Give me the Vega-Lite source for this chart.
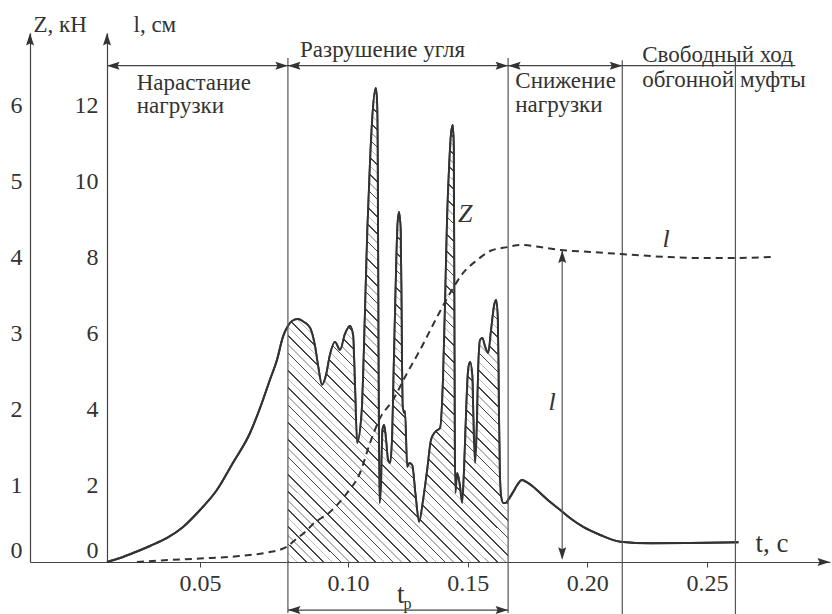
{
"$schema": "https://vega.github.io/schema/vega-lite/v6.json",
"width": 800,
"height": 529,
"autosize": {"type": "none"},
"padding": {"left": 30, "top": 33, "right": 2, "bottom": 52},
"background": "white",
"config": {"view": {"stroke": null}, "font": "Liberation Serif"},
"datasets": {
"z": [
{"t":0,"Z":0},{"t":0.007,"Z":0.053},{"t":0.014,"Z":0.118},{"t":0.0231,"Z":0.211},{"t":0.0323,"Z":0.316},{"t":0.0409,"Z":0.461},{"t":0.05,"Z":0.684},{"t":0.0557,"Z":0.947},{"t":0.0611,"Z":1.303},{"t":0.0669,"Z":1.697},{"t":0.0709,"Z":2.092},{"t":0.0736,"Z":2.395},{"t":0.076,"Z":2.658},{"t":0.078,"Z":2.961},
{"t":0.0797,"Z":3.105},{"t":0.0811,"Z":3.171},{"t":0.0831,"Z":3.197},{"t":0.0851,"Z":3.158},{"t":0.0872,"Z":3.079},{"t":0.0889,"Z":2.829},{"t":0.0899,"Z":2.579},{"t":0.0912,"Z":2.329},{"t":0.0926,"Z":2.461},{"t":0.0939,"Z":2.724},{"t":0.0956,"Z":2.895},{"t":0.0973,"Z":2.789},{"t":0.099,"Z":3.0},{"t":0.1008,"Z":3.105},{"t":0.1021,"Z":2.987},{"t":0.1029,"Z":2.329},{"t":0.1038,"Z":1.566},
{"t":0.1057,"Z":1.961},{"t":0.1071,"Z":3.276},{"t":0.1081,"Z":4.368},{"t":0.1092,"Z":5.25},{"t":0.1103,"Z":5.908},{"t":0.1116,"Z":6.237},{"t":0.1121,"Z":6.079},{"t":0.1125,"Z":4.763},{"t":0.1127,"Z":2.789},{"t":0.113,"Z":1.342},{"t":0.1132,"Z":0.776},
{"t":0.1138,"Z":1.013},{"t":0.1144,"Z":1.737},{"t":0.1151,"Z":1.803},{"t":0.1159,"Z":1.605},{"t":0.1167,"Z":1.342},{"t":0.1176,"Z":1.303},{"t":0.1184,"Z":1.605},{"t":0.1192,"Z":2.658},{"t":0.1201,"Z":3.842},{"t":0.1207,"Z":4.434},{"t":0.1213,"Z":4.605},{"t":0.122,"Z":4.368},{"t":0.1224,"Z":3.184},{"t":0.1228,"Z":2.066},{"t":0.1234,"Z":1.961},{"t":0.1238,"Z":1.987},
{"t":0.1247,"Z":1.25},{"t":0.1257,"Z":1.303},{"t":0.1268,"Z":1.276},{"t":0.1282,"Z":0.882},{"t":0.1297,"Z":0.526},{"t":0.1314,"Z":0.816},{"t":0.1331,"Z":1.211},{"t":0.1347,"Z":1.605},{"t":0.1364,"Z":1.711},{"t":0.1385,"Z":1.763},
{"t":0.1397,"Z":2.395},{"t":0.1406,"Z":3.447},{"t":0.1414,"Z":4.5},{"t":0.1423,"Z":5.224},{"t":0.1431,"Z":5.645},{"t":0.1438,"Z":5.75},{"t":0.1442,"Z":5.421},{"t":0.1444,"Z":3.447},{"t":0.1446,"Z":1.605},{"t":0.1449,"Z":0.908},{"t":0.1456,"Z":1.171},{"t":0.1467,"Z":1.013},{"t":0.1477,"Z":0.776},
{"t":0.1485,"Z":1.211},{"t":0.1494,"Z":2.0},{"t":0.1502,"Z":2.526},{"t":0.151,"Z":2.632},{"t":0.1519,"Z":2.461},{"t":0.1525,"Z":1.737},{"t":0.1531,"Z":1.303},{"t":0.1538,"Z":1.737},{"t":0.1544,"Z":2.526},{"t":0.1552,"Z":2.921},{"t":0.1561,"Z":2.947},{"t":0.1573,"Z":2.829},{"t":0.1586,"Z":2.75},{"t":0.1598,"Z":3.053},{"t":0.1611,"Z":3.382},{"t":0.1619,"Z":3.447},{"t":0.1626,"Z":3.184},{"t":0.163,"Z":2.132},{"t":0.1634,"Z":1.211},{"t":0.164,"Z":0.855},{"t":0.1649,"Z":0.776},{"t":0.1659,"Z":0.776},{"t":0.1669,"Z":0.816},
{"t":0.169,"Z":0.921},{"t":0.1707,"Z":1.013},{"t":0.1727,"Z":1.079},{"t":0.1745,"Z":1.053},{"t":0.177,"Z":1.0},{"t":0.1803,"Z":0.908},{"t":0.1845,"Z":0.789},{"t":0.1887,"Z":0.684},{"t":0.1933,"Z":0.566},{"t":0.1983,"Z":0.461},{"t":0.2054,"Z":0.355},{"t":0.2138,"Z":0.267},{"t":0.2264,"Z":0.246},{"t":0.2431,"Z":0.25},{"t":0.2632,"Z":0.259}
],
"l": [
{"t":0.0161,"l":0},{"t":0.0339,"l":0.053},{"t":0.05,"l":0.092},{"t":0.0635,"l":0.158},{"t":0.0736,"l":0.263},{"t":0.0777,"l":0.342},{"t":0.0797,"l":0.421},{"t":0.0821,"l":0.579},{"t":0.0855,"l":0.789},{"t":0.0882,"l":1.0},{"t":0.0939,"l":1.316},{"t":0.0997,"l":1.816},{"t":0.105,"l":2.342},{"t":0.1092,"l":3.132},{"t":0.1134,"l":3.789},{"t":0.1188,"l":4.263},{"t":0.1247,"l":4.974},{"t":0.1301,"l":5.579},{"t":0.1372,"l":6.447},{"t":0.1427,"l":7.079},{"t":0.1481,"l":7.605},{"t":0.154,"l":7.947},{"t":0.1594,"l":8.184},{"t":0.1669,"l":8.289},{"t":0.172,"l":8.342},{"t":0.1803,"l":8.289},{"t":0.1887,"l":8.211},{"t":0.2013,"l":8.158},{"t":0.2138,"l":8.105},{"t":0.2335,"l":8.026},{"t":0.2473,"l":8.0},{"t":0.2619,"l":8.0},{"t":0.277,"l":8.026}
],
"vlines": [{"t":0.0797,"Z":6.63,"Z2":-0.67},{"t":0.1669,"Z":6.63,"Z2":-0.67},{"t":0.2146,"Z":6.6,"Z2":-0.7},{"t":0.2619,"Z":6.63,"Z2":-0.7},{"t":0.1895,"Z":0.05,"Z2":4.1}],
"hlines": [{"t":0,"t2":0.287,"Z":6.53},{"t":0.0797,"t2":0.1669,"Z":-0.632}],
"up": [{"t":-0.0414,"Z":6.96},{"t":0,"Z":6.96},{"t":0.1895,"Z":4.1}],
"down": [{"t":0.1895,"Z":0.03}],
"right": [{"t":0.3015,"Z":0},{"t":0.0797,"Z":6.53},{"t":0.1669,"Z":6.53},{"t":0.2146,"Z":6.53},{"t":0.1669,"Z":-0.632}],
"left": [{"t":0,"Z":6.53},{"t":0.0797,"Z":6.53},{"t":0.1669,"Z":6.53},{"t":0.0797,"Z":-0.632}],
"labels": [{"t":0.016,"Z":6.21,"txt":"Нарастание"},{"t":0.016,"Z":5.908,"txt":"нагрузки"},{"t":0.0838,"Z":6.645,"txt":"Разрушение угля"},{"t":0.1699,"Z":6.237,"txt":"Снижение"},{"t":0.1699,"Z":5.921,"txt":"нагрузки"},{"t":0.2229,"Z":6.579,"txt":"Свободный ход"},{"t":0.2229,"Z":6.25,"txt":"обгонной муфты"}],
"big": [{"t":0.2703,"Z":0.132,"txt":"t, с"},{"t":0.1205,"Z":-0.539,"txt":"t"}],
"ital": [{"t":0.146,"Z":4.474,"txt":"Z"},{"t":0.2314,"Z":4.145,"txt":"l"},{"t":0.1838,"Z":2.0,"txt":"l"}],
"sub": [{"t":0.1232,"Z":-0.62,"txt":"р"}]
},
"resolve": {"scale": {"y": "independent"}},
"layer": [
{
"layer": [
{
"data": {"name": "z"},
"mark": {"type": "line", "interpolate": "monotone", "color": "#333", "strokeWidth": 2},
"encoding": {
"x": {"field": "t", "type": "quantitative",
"scale": {"type": "linear", "domain": [-0.0414, 0, 0.05, 0.1, 0.25, 0.3015], "range": [0, 77, 170, 318, 677, 800], "nice": false, "zero": false},
"axis": {"values": [0.05, 0.1, 0.15, 0.2, 0.25], "format": ".2f", "title": null, "grid": false, "domainColor": "#444", "domainWidth": 1.2, "tickColor": "#444", "tickSize": 5, "tickWidth": 1, "labelFont": "Liberation Serif", "labelFontSize": 24, "labelColor": "#333", "labelPadding": 4, "labelDx": 5, "labelFlush": false, "labelOverlap": false}},
"y": {"field": "Z", "type": "quantitative",
"scale": {"domain": [0, 6.96], "nice": false},
"axis": {"values": [0, 1, 2, 3, 4, 5, 6], "format": "d", "title": "Z, кН", "titleAngle": 0, "titleAlign": "left", "titleBaseline": "alphabetic", "titleX": 3, "titleY": -2, "titleFont": "Liberation Serif", "titleFontSize": 23, "titleFontWeight": "normal", "titleColor": "#333", "grid": false, "ticks": false, "domainColor": "#444", "domainWidth": 1.2, "labelFont": "Liberation Serif", "labelFontSize": 24, "labelColor": "#333", "labelPadding": 8, "labelFlush": true, "labelOverlap": false}}
}
},
{
"data": {"name": "z"},
"transform": [{"filter": "datum.t >= 0.0796 && datum.t <= 0.16695"}],
"mark": {"type": "area", "interpolate": "monotone", "fill": {"gradient": "linear", "x1": 0, "y1": 1, "x2": 0.5591, "y2": -0.2046, "stops": [
{"offset":0,"color":"#444"},{"offset":0.0025,"color":"#444"},{"offset":0.0025,"color":"#fff"},{"offset":0.0125,"color":"#fff"},{"offset":0.0125,"color":"#bbb"},{"offset":0.0145,"color":"#bbb"},{"offset":0.0145,"color":"#fff"},{"offset":0.025,"color":"#fff"},
{"offset":0.025,"color":"#444"},{"offset":0.0275,"color":"#444"},{"offset":0.0275,"color":"#fff"},{"offset":0.0375,"color":"#fff"},{"offset":0.0375,"color":"#bbb"},{"offset":0.0395,"color":"#bbb"},{"offset":0.0395,"color":"#fff"},{"offset":0.05,"color":"#fff"},
{"offset":0.05,"color":"#444"},{"offset":0.0525,"color":"#444"},{"offset":0.0525,"color":"#fff"},{"offset":0.0625,"color":"#fff"},{"offset":0.0625,"color":"#bbb"},{"offset":0.0645,"color":"#bbb"},{"offset":0.0645,"color":"#fff"},{"offset":0.075,"color":"#fff"},
{"offset":0.075,"color":"#444"},{"offset":0.0775,"color":"#444"},{"offset":0.0775,"color":"#fff"},{"offset":0.0875,"color":"#fff"},{"offset":0.0875,"color":"#bbb"},{"offset":0.0895,"color":"#bbb"},{"offset":0.0895,"color":"#fff"},{"offset":0.1,"color":"#fff"},
{"offset":0.1,"color":"#444"},{"offset":0.1025,"color":"#444"},{"offset":0.1025,"color":"#fff"},{"offset":0.1125,"color":"#fff"},{"offset":0.1125,"color":"#bbb"},{"offset":0.1145,"color":"#bbb"},{"offset":0.1145,"color":"#fff"},{"offset":0.125,"color":"#fff"},
{"offset":0.125,"color":"#444"},{"offset":0.1275,"color":"#444"},{"offset":0.1275,"color":"#fff"},{"offset":0.1375,"color":"#fff"},{"offset":0.1375,"color":"#bbb"},{"offset":0.1395,"color":"#bbb"},{"offset":0.1395,"color":"#fff"},{"offset":0.15,"color":"#fff"},
{"offset":0.15,"color":"#444"},{"offset":0.1525,"color":"#444"},{"offset":0.1525,"color":"#fff"},{"offset":0.1625,"color":"#fff"},{"offset":0.1625,"color":"#bbb"},{"offset":0.1645,"color":"#bbb"},{"offset":0.1645,"color":"#fff"},{"offset":0.175,"color":"#fff"},
{"offset":0.175,"color":"#444"},{"offset":0.1775,"color":"#444"},{"offset":0.1775,"color":"#fff"},{"offset":0.1875,"color":"#fff"},{"offset":0.1875,"color":"#bbb"},{"offset":0.1895,"color":"#bbb"},{"offset":0.1895,"color":"#fff"},{"offset":0.2,"color":"#fff"},
{"offset":0.2,"color":"#444"},{"offset":0.2025,"color":"#444"},{"offset":0.2025,"color":"#fff"},{"offset":0.2125,"color":"#fff"},{"offset":0.2125,"color":"#bbb"},{"offset":0.2145,"color":"#bbb"},{"offset":0.2145,"color":"#fff"},{"offset":0.225,"color":"#fff"},
{"offset":0.225,"color":"#444"},{"offset":0.2275,"color":"#444"},{"offset":0.2275,"color":"#fff"},{"offset":0.2375,"color":"#fff"},{"offset":0.2375,"color":"#bbb"},{"offset":0.2395,"color":"#bbb"},{"offset":0.2395,"color":"#fff"},{"offset":0.25,"color":"#fff"},
{"offset":0.25,"color":"#444"},{"offset":0.2525,"color":"#444"},{"offset":0.2525,"color":"#fff"},{"offset":0.2625,"color":"#fff"},{"offset":0.2625,"color":"#bbb"},{"offset":0.2645,"color":"#bbb"},{"offset":0.2645,"color":"#fff"},{"offset":0.275,"color":"#fff"},
{"offset":0.275,"color":"#444"},{"offset":0.2775,"color":"#444"},{"offset":0.2775,"color":"#fff"},{"offset":0.2875,"color":"#fff"},{"offset":0.2875,"color":"#bbb"},{"offset":0.2895,"color":"#bbb"},{"offset":0.2895,"color":"#fff"},{"offset":0.3,"color":"#fff"},
{"offset":0.3,"color":"#444"},{"offset":0.3025,"color":"#444"},{"offset":0.3025,"color":"#fff"},{"offset":0.3125,"color":"#fff"},{"offset":0.3125,"color":"#bbb"},{"offset":0.3145,"color":"#bbb"},{"offset":0.3145,"color":"#fff"},{"offset":0.325,"color":"#fff"},
{"offset":0.325,"color":"#444"},{"offset":0.3275,"color":"#444"},{"offset":0.3275,"color":"#fff"},{"offset":0.3375,"color":"#fff"},{"offset":0.3375,"color":"#bbb"},{"offset":0.3395,"color":"#bbb"},{"offset":0.3395,"color":"#fff"},{"offset":0.35,"color":"#fff"},
{"offset":0.35,"color":"#444"},{"offset":0.3525,"color":"#444"},{"offset":0.3525,"color":"#fff"},{"offset":0.3625,"color":"#fff"},{"offset":0.3625,"color":"#bbb"},{"offset":0.3645,"color":"#bbb"},{"offset":0.3645,"color":"#fff"},{"offset":0.375,"color":"#fff"},
{"offset":0.375,"color":"#444"},{"offset":0.3775,"color":"#444"},{"offset":0.3775,"color":"#fff"},{"offset":0.3875,"color":"#fff"},{"offset":0.3875,"color":"#bbb"},{"offset":0.3895,"color":"#bbb"},{"offset":0.3895,"color":"#fff"},{"offset":0.4,"color":"#fff"},
{"offset":0.4,"color":"#444"},{"offset":0.4025,"color":"#444"},{"offset":0.4025,"color":"#fff"},{"offset":0.4125,"color":"#fff"},{"offset":0.4125,"color":"#bbb"},{"offset":0.4145,"color":"#bbb"},{"offset":0.4145,"color":"#fff"},{"offset":0.425,"color":"#fff"},
{"offset":0.425,"color":"#444"},{"offset":0.4275,"color":"#444"},{"offset":0.4275,"color":"#fff"},{"offset":0.4375,"color":"#fff"},{"offset":0.4375,"color":"#bbb"},{"offset":0.4395,"color":"#bbb"},{"offset":0.4395,"color":"#fff"},{"offset":0.45,"color":"#fff"},
{"offset":0.45,"color":"#444"},{"offset":0.4525,"color":"#444"},{"offset":0.4525,"color":"#fff"},{"offset":0.4625,"color":"#fff"},{"offset":0.4625,"color":"#bbb"},{"offset":0.4645,"color":"#bbb"},{"offset":0.4645,"color":"#fff"},{"offset":0.475,"color":"#fff"},
{"offset":0.475,"color":"#444"},{"offset":0.4775,"color":"#444"},{"offset":0.4775,"color":"#fff"},{"offset":0.4875,"color":"#fff"},{"offset":0.4875,"color":"#bbb"},{"offset":0.4895,"color":"#bbb"},{"offset":0.4895,"color":"#fff"},{"offset":0.5,"color":"#fff"},
{"offset":0.5,"color":"#444"},{"offset":0.5025,"color":"#444"},{"offset":0.5025,"color":"#fff"},{"offset":0.5125,"color":"#fff"},{"offset":0.5125,"color":"#bbb"},{"offset":0.5145,"color":"#bbb"},{"offset":0.5145,"color":"#fff"},{"offset":0.525,"color":"#fff"},
{"offset":0.525,"color":"#444"},{"offset":0.5275,"color":"#444"},{"offset":0.5275,"color":"#fff"},{"offset":0.5375,"color":"#fff"},{"offset":0.5375,"color":"#bbb"},{"offset":0.5395,"color":"#bbb"},{"offset":0.5395,"color":"#fff"},{"offset":0.55,"color":"#fff"},
{"offset":0.55,"color":"#444"},{"offset":0.5525,"color":"#444"},{"offset":0.5525,"color":"#fff"},{"offset":0.5625,"color":"#fff"},{"offset":0.5625,"color":"#bbb"},{"offset":0.5645,"color":"#bbb"},{"offset":0.5645,"color":"#fff"},{"offset":0.575,"color":"#fff"},
{"offset":0.575,"color":"#444"},{"offset":0.5775,"color":"#444"},{"offset":0.5775,"color":"#fff"},{"offset":0.5875,"color":"#fff"},{"offset":0.5875,"color":"#bbb"},{"offset":0.5895,"color":"#bbb"},{"offset":0.5895,"color":"#fff"},{"offset":0.6,"color":"#fff"},
{"offset":0.6,"color":"#444"},{"offset":0.6025,"color":"#444"},{"offset":0.6025,"color":"#fff"},{"offset":0.6125,"color":"#fff"},{"offset":0.6125,"color":"#bbb"},{"offset":0.6145,"color":"#bbb"},{"offset":0.6145,"color":"#fff"},{"offset":0.625,"color":"#fff"},
{"offset":0.625,"color":"#444"},{"offset":0.6275,"color":"#444"},{"offset":0.6275,"color":"#fff"},{"offset":0.6375,"color":"#fff"},{"offset":0.6375,"color":"#bbb"},{"offset":0.6395,"color":"#bbb"},{"offset":0.6395,"color":"#fff"},{"offset":0.65,"color":"#fff"},
{"offset":0.65,"color":"#444"},{"offset":0.6525,"color":"#444"},{"offset":0.6525,"color":"#fff"},{"offset":0.6625,"color":"#fff"},{"offset":0.6625,"color":"#bbb"},{"offset":0.6645,"color":"#bbb"},{"offset":0.6645,"color":"#fff"},{"offset":0.675,"color":"#fff"},
{"offset":0.675,"color":"#444"},{"offset":0.6775,"color":"#444"},{"offset":0.6775,"color":"#fff"},{"offset":0.6875,"color":"#fff"},{"offset":0.6875,"color":"#bbb"},{"offset":0.6895,"color":"#bbb"},{"offset":0.6895,"color":"#fff"},{"offset":0.7,"color":"#fff"},
{"offset":0.7,"color":"#444"},{"offset":0.7025,"color":"#444"},{"offset":0.7025,"color":"#fff"},{"offset":0.7125,"color":"#fff"},{"offset":0.7125,"color":"#bbb"},{"offset":0.7145,"color":"#bbb"},{"offset":0.7145,"color":"#fff"},{"offset":0.725,"color":"#fff"},
{"offset":0.725,"color":"#444"},{"offset":0.7275,"color":"#444"},{"offset":0.7275,"color":"#fff"},{"offset":0.7375,"color":"#fff"},{"offset":0.7375,"color":"#bbb"},{"offset":0.7395,"color":"#bbb"},{"offset":0.7395,"color":"#fff"},{"offset":0.75,"color":"#fff"},
{"offset":0.75,"color":"#444"},{"offset":0.7525,"color":"#444"},{"offset":0.7525,"color":"#fff"},{"offset":0.7625,"color":"#fff"},{"offset":0.7625,"color":"#bbb"},{"offset":0.7645,"color":"#bbb"},{"offset":0.7645,"color":"#fff"},{"offset":0.775,"color":"#fff"},
{"offset":0.775,"color":"#444"},{"offset":0.7775,"color":"#444"},{"offset":0.7775,"color":"#fff"},{"offset":0.7875,"color":"#fff"},{"offset":0.7875,"color":"#bbb"},{"offset":0.7895,"color":"#bbb"},{"offset":0.7895,"color":"#fff"},{"offset":0.8,"color":"#fff"},
{"offset":0.8,"color":"#444"},{"offset":0.8025,"color":"#444"},{"offset":0.8025,"color":"#fff"},{"offset":0.8125,"color":"#fff"},{"offset":0.8125,"color":"#bbb"},{"offset":0.8145,"color":"#bbb"},{"offset":0.8145,"color":"#fff"},{"offset":0.825,"color":"#fff"},
{"offset":0.825,"color":"#444"},{"offset":0.8275,"color":"#444"},{"offset":0.8275,"color":"#fff"},{"offset":0.8375,"color":"#fff"},{"offset":0.8375,"color":"#bbb"},{"offset":0.8395,"color":"#bbb"},{"offset":0.8395,"color":"#fff"},{"offset":0.85,"color":"#fff"},
{"offset":0.85,"color":"#444"},{"offset":0.8525,"color":"#444"},{"offset":0.8525,"color":"#fff"},{"offset":0.8625,"color":"#fff"},{"offset":0.8625,"color":"#bbb"},{"offset":0.8645,"color":"#bbb"},{"offset":0.8645,"color":"#fff"},{"offset":0.875,"color":"#fff"},
{"offset":0.875,"color":"#444"},{"offset":0.8775,"color":"#444"},{"offset":0.8775,"color":"#fff"},{"offset":0.8875,"color":"#fff"},{"offset":0.8875,"color":"#bbb"},{"offset":0.8895,"color":"#bbb"},{"offset":0.8895,"color":"#fff"},{"offset":0.9,"color":"#fff"},
{"offset":0.9,"color":"#444"},{"offset":0.9025,"color":"#444"},{"offset":0.9025,"color":"#fff"},{"offset":0.9125,"color":"#fff"},{"offset":0.9125,"color":"#bbb"},{"offset":0.9145,"color":"#bbb"},{"offset":0.9145,"color":"#fff"},{"offset":0.925,"color":"#fff"},
{"offset":0.925,"color":"#444"},{"offset":0.9275,"color":"#444"},{"offset":0.9275,"color":"#fff"},{"offset":0.9375,"color":"#fff"},{"offset":0.9375,"color":"#bbb"},{"offset":0.9395,"color":"#bbb"},{"offset":0.9395,"color":"#fff"},{"offset":0.95,"color":"#fff"},
{"offset":0.95,"color":"#444"},{"offset":0.9525,"color":"#444"},{"offset":0.9525,"color":"#fff"},{"offset":0.9625,"color":"#fff"},{"offset":0.9625,"color":"#bbb"},{"offset":0.9645,"color":"#bbb"},{"offset":0.9645,"color":"#fff"},{"offset":0.975,"color":"#fff"},
{"offset":0.975,"color":"#444"},{"offset":0.9775,"color":"#444"},{"offset":0.9775,"color":"#fff"},{"offset":0.9875,"color":"#fff"},{"offset":0.9875,"color":"#bbb"},{"offset":0.9895,"color":"#bbb"},{"offset":0.9895,"color":"#fff"},{"offset":1,"color":"#fff"}
]}, "stroke": null},
"encoding": {
"x": {"field": "t", "type": "quantitative"},
"y": {"field": "Z", "type": "quantitative"}
}
},
{
"data": {"name": "z"},
"mark": {"type": "line", "interpolate": "monotone", "color": "#333", "strokeWidth": 2},
"encoding": {
"x": {"field": "t", "type": "quantitative"},
"y": {"field": "Z", "type": "quantitative"}
}
},
{
"data": {"name": "vlines"},
"mark": {"type": "rule", "color": "#555", "strokeWidth": 1.2},
"encoding": {
"x": {"field": "t", "type": "quantitative"},
"y": {"field": "Z", "type": "quantitative"},
"y2": {"field": "Z2"}
}
},
{
"data": {"name": "hlines"},
"mark": {"type": "rule", "color": "#444", "strokeWidth": 1.2},
"encoding": {
"x": {"field": "t", "type": "quantitative"},
"x2": {"field": "t2"},
"y": {"field": "Z", "type": "quantitative"}
}
},
{
"data": {"name": "up"},
"mark": {"type": "point", "shape": "M0,0L0.8,2.5L0,2.1L-0.8,2.5Z", "filled": true, "size": 100, "color": "#333", "opacity": 1, "angle": 0},
"encoding": {"x": {"field": "t", "type": "quantitative"}, "y": {"field": "Z", "type": "quantitative"}}
},
{
"data": {"name": "down"},
"mark": {"type": "point", "shape": "M0,0L0.8,2.5L0,2.1L-0.8,2.5Z", "filled": true, "size": 100, "color": "#333", "opacity": 1, "angle": 180},
"encoding": {"x": {"field": "t", "type": "quantitative"}, "y": {"field": "Z", "type": "quantitative"}}
},
{
"data": {"name": "right"},
"mark": {"type": "point", "shape": "M0,0L0.8,2.5L0,2.1L-0.8,2.5Z", "filled": true, "size": 100, "color": "#333", "opacity": 1, "angle": 90},
"encoding": {"x": {"field": "t", "type": "quantitative"}, "y": {"field": "Z", "type": "quantitative"}}
},
{
"data": {"name": "left"},
"mark": {"type": "point", "shape": "M0,0L0.8,2.5L0,2.1L-0.8,2.5Z", "filled": true, "size": 100, "color": "#333", "opacity": 1, "angle": 270},
"encoding": {"x": {"field": "t", "type": "quantitative"}, "y": {"field": "Z", "type": "quantitative"}}
},
{
"data": {"name": "labels"},
"mark": {"type": "text", "align": "left", "baseline": "alphabetic", "font": "Liberation Serif", "fontSize": 23, "color": "#333"},
"encoding": {"x": {"field": "t", "type": "quantitative"}, "y": {"field": "Z", "type": "quantitative"}, "text": {"field": "txt", "type": "nominal"}}
},
{
"data": {"name": "big"},
"mark": {"type": "text", "align": "left", "baseline": "alphabetic", "font": "Liberation Serif", "fontSize": 27, "color": "#333"},
"encoding": {"x": {"field": "t", "type": "quantitative"}, "y": {"field": "Z", "type": "quantitative"}, "text": {"field": "txt", "type": "nominal"}}
},
{
"data": {"name": "ital"},
"mark": {"type": "text", "align": "left", "baseline": "alphabetic", "font": "Liberation Serif", "fontStyle": "italic", "fontSize": 26, "color": "#333"},
"encoding": {"x": {"field": "t", "type": "quantitative"}, "y": {"field": "Z", "type": "quantitative"}, "text": {"field": "txt", "type": "nominal"}}
},
{
"data": {"name": "sub"},
"mark": {"type": "text", "align": "left", "baseline": "alphabetic", "font": "Liberation Serif", "fontSize": 16, "color": "#333"},
"encoding": {"x": {"field": "t", "type": "quantitative"}, "y": {"field": "Z", "type": "quantitative"}, "text": {"field": "txt", "type": "nominal"}}
}
]
},
{
"data": {"name": "l"},
"mark": {"type": "line", "interpolate": "monotone", "color": "#333", "strokeWidth": 2, "strokeDash": [7, 5]},
"encoding": {
"x": {"field": "t", "type": "quantitative"},
"y": {"field": "l", "type": "quantitative",
"scale": {"domain": [0, 13.92], "nice": false},
"axis": {"orient": "left", "offset": -77, "values": [0, 2, 4, 6, 8, 10, 12], "format": "d", "title": "l, см", "titleAngle": 0, "titleAlign": "left", "titleBaseline": "alphabetic", "titleX": 26, "titleY": -2, "titleFont": "Liberation Serif", "titleFontSize": 23, "titleFontWeight": "normal", "titleColor": "#333", "grid": false, "ticks": false, "domainColor": "#444", "domainWidth": 1.2, "labelFont": "Liberation Serif", "labelFontSize": 24, "labelColor": "#333", "labelPadding": 9, "labelFlush": true, "labelOverlap": false}}
}
}
]
}
